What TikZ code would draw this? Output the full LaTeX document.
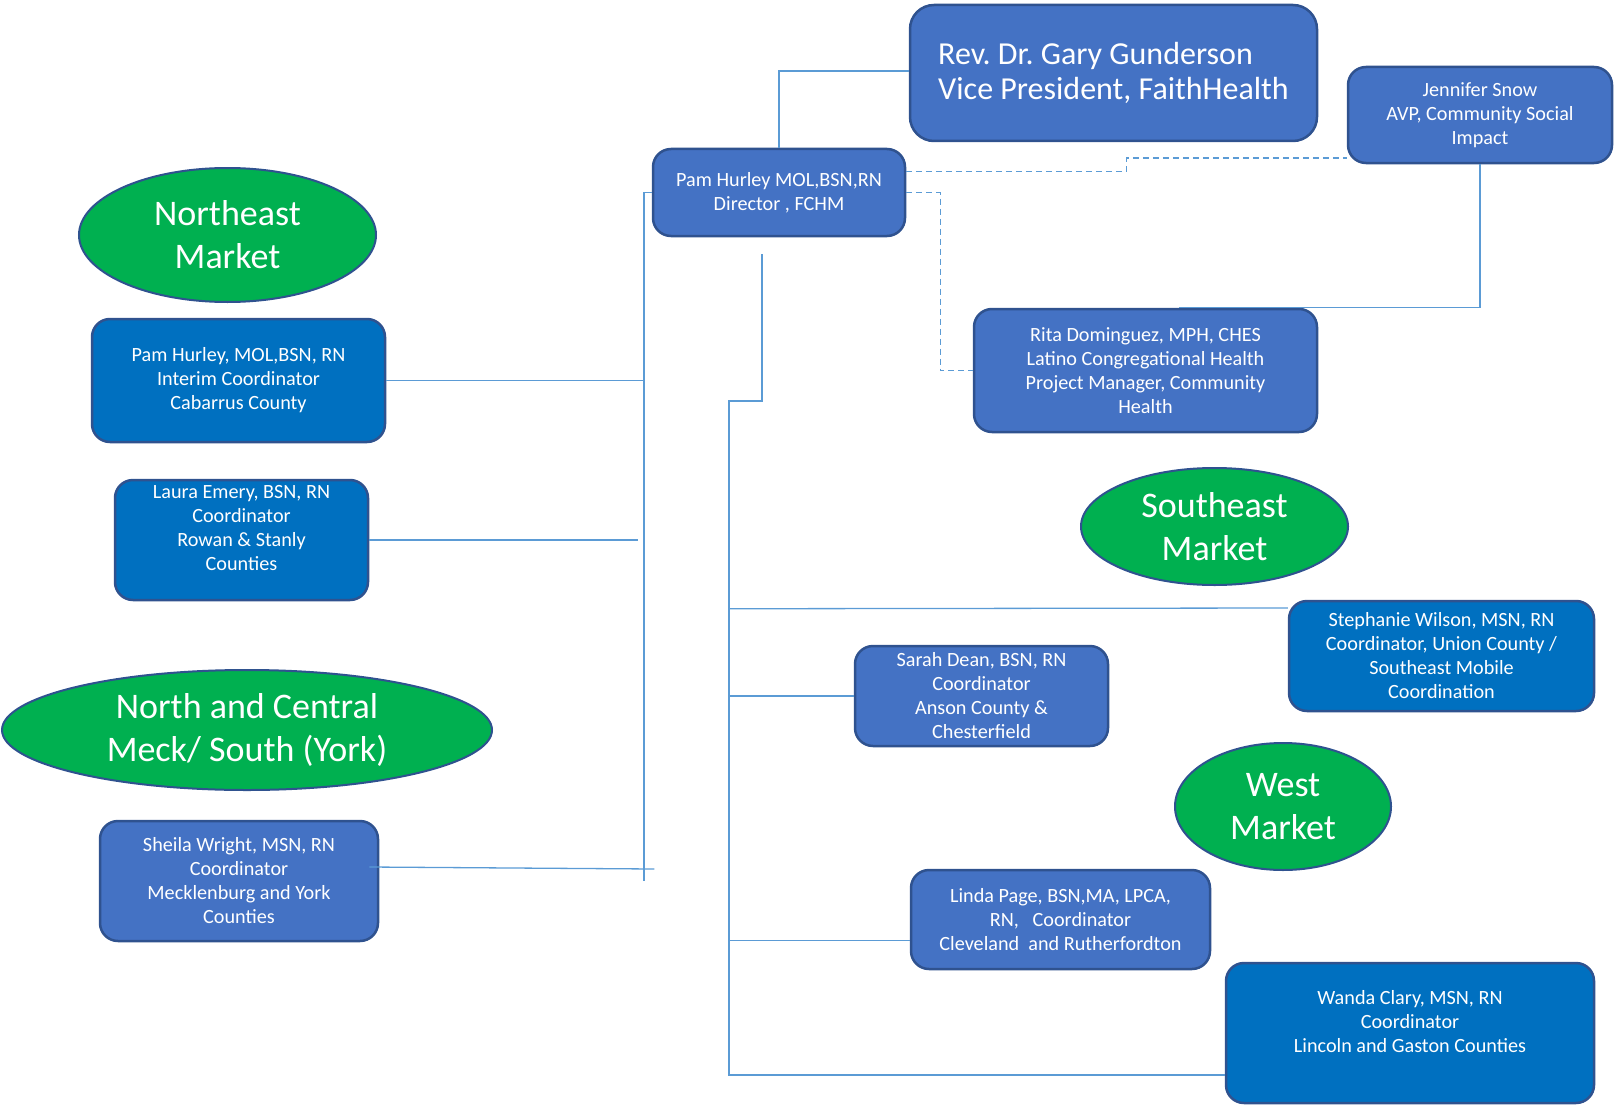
\documentclass[tikz,border=0pt]{standalone}
\usepackage{fontspec}
\setmainfont{Carlito}
\usetikzlibrary{shapes.geometric}
\frenchspacing

\definecolor{boxblue}{HTML}{4472C4}
\definecolor{boxdeep}{HTML}{0070C0}
\definecolor{boxedge}{HTML}{2F528F}
\definecolor{marketgreen}{HTML}{00B050}
\definecolor{linkblue}{HTML}{5B9BD5}

\begin{document}
\begin{tikzpicture}[
        x=1pt, y=-1pt,
        person/.style={
            draw=boxedge,
            line width=2.5pt,
            fill=boxblue,
            rounded corners=18pt,
            text=white,
            align=center,
            inner sep=0pt,
            font=\fontsize{20.2}{24}\selectfont,
        },
        person-deep/.style={
            person,
            fill=boxdeep,
        },
        market/.style={
            draw=boxedge,
            line width=2pt,
            fill=marketgreen,
            ellipse,
            text=white,
            align=center,
            inner sep=0pt,
            font=\fontsize{36}{43}\selectfont,
        },
        link-main/.style={
            draw=linkblue,
            line width=1.3pt,
        },
        link-dotted/.style={
            link-main,
            dash pattern=on 6pt off 4pt,
        },
    ]

    \useasboundingbox (0,0) rectangle (1614,1105);

    % Top of the chart.
    \node[person, rounded corners=24pt, minimum width=407pt, minimum height=136pt,
        align=left, font=\fontsize{32}{35}\selectfont] (rev) at (1113.5,73)
        {Rev. Dr. Gary Gunderson\\Vice President, FaithHealth};
    \node[person, minimum width=264pt, minimum height=96pt] (jen) at (1480,115)
        {Jennifer Snow\\AVP, Community Social\\Impact};
    \node[person, minimum width=252pt, minimum height=87pt] (dir) at (779,192.5)
        {Pam Hurley MOL,BSN,RN\\Director , FCHM};
    \node[person, minimum width=343pt, minimum height=123pt] (rita) at (1145.5,370.5)
        {Rita Dominguez, MPH, CHES\\Latino Congregational Health\\Project Manager, Community\\Health};

    % Markets.
    \node[market, minimum width=297pt, minimum height=134pt] (ne) at (227.5,235)
        {Northeast\\Market};
    \node[market, minimum width=490pt, minimum height=120pt] (nc) at (247,730)
        {North and Central\\Meck/ South (York)};
    \node[market, minimum width=267pt, minimum height=117pt] (se) at (1214.5,526.5)
        {Southeast\\Market};
    \node[market, minimum width=216pt, minimum height=127pt] (west) at (1283,806.5)
        {West\\Market};

    % Coordinators.
    \node[person-deep, minimum width=293pt, minimum height=123pt] (pamco) at (238.5,380.5)
        {Pam Hurley, MOL,BSN, RN\\Interim Coordinator\\Cabarrus County};
    \node[person-deep, minimum width=253pt, minimum height=120pt] (laura) at (241.5,540)
        {Laura Emery, BSN, RN\\Coordinator\\Rowan \& Stanly\\Counties\\};
    \node[person, minimum width=278pt, minimum height=120pt] (sheila) at (239,881)
        {Sheila Wright, MSN, RN\\Coordinator\\Mecklenburg and York\\Counties};
    \node[person-deep, minimum width=305pt, minimum height=110pt] (steph) at (1441.5,656)
        {Stephanie Wilson, MSN, RN\\Coordinator, Union County /\\Southeast Mobile\\Coordination};
    \node[person, minimum width=253pt, minimum height=100pt] (sarah) at (981.5,696)
        {Sarah Dean, BSN, RN\\Coordinator\\Anson County \&\\Chesterfield};
    \node[person, minimum width=299pt, minimum height=99pt] (linda) at (1060.5,919.5)
        {Linda Page, BSN,MA, LPCA,\\RN,~~~Coordinator\\Cleveland~~and Rutherfordton};
    \node[person-deep, minimum width=368pt, minimum height=140pt] (wanda) at (1410,1033)
        {Wanda Clary, MSN, RN\\Coordinator\\Lincoln and Gaston Counties\\};

    % Trunk ends.
    \coordinate (lbot) at (644,881);
    \coordinate (rtop) at (762,254);
    \coordinate (rbot) at (729,1075);

    % Reporting lines.
    \draw[link-main] (dir.north) |- ([yshift=2pt]rev.west);
    \draw[link-dotted] ([yshift=21pt]dir.east) -- ++(220,0) |- ([yshift=-43pt]jen.west);
    \draw[link-dotted] (dir.east) -- ++(34,0) |- (rita.west);
    \draw[link-main] (jen.south) |- ([xshift=33pt]rita.north);

    % Left trunk.
    \draw[link-main] (dir.west) -| (lbot);
    \draw[link-main] (pamco.east) -- (pamco.east -| lbot);
    \draw[link-main] (laura.east) -- ++(269,0);
    \draw[link-main] ([xshift=-10pt,yshift=14pt]sheila.east) -- ++(285,2);

    % Right trunk.
    \draw[link-main] (rtop) -- ++(0,147) -- ++(-33,0) -- (rbot) -- (rbot -| wanda.west);
    \draw[link-main] (rbot |- steph.north) ++(0,9) -- ([yshift=48pt]steph.west);
    \draw[link-main] (sarah.west) -- (sarah.west -| rbot);
    \draw[link-main] ([yshift=-21pt]linda.west) -- ([yshift=-21pt]linda.west -| rbot);
\end{tikzpicture}
\end{document}
